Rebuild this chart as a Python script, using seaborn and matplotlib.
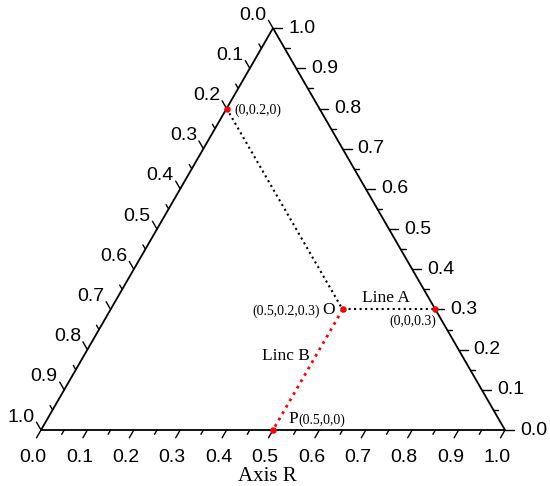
import matplotlib

matplotlib.use("Agg")
import matplotlib.pyplot as plt
import numpy as np
import pandas as pd
import seaborn as sns

# ternary components (they add up to 1):
#   r     -> bottom axis "Axis R" (0 at bottom-left, 1 at bottom-right)
#   left  -> left axis (0 at apex, 1 at bottom-left)
#   right -> right axis (0 at bottom-right, 1 at apex)
point_names = ["Q", "O", "A", "P"]
r_vals = [0.0, 0.5, 0.7, 0.5]
left_vals = [0.2, 0.2, 0.0, 0.5]
right_vals = [0.8, 0.3, 0.3, 0.0]

major_ticks = [0.0, 0.1, 0.2, 0.3, 0.4, 0.5, 0.6, 0.7, 0.8, 0.9, 1.0]
minor_ticks = [0.05, 0.15, 0.25, 0.35, 0.45, 0.55, 0.65, 0.75, 0.85, 0.95]
tick_labels = ["0.0", "0.1", "0.2", "0.3", "0.4", "0.5", "0.6", "0.7", "0.8", "0.9", "1.0"]

H = np.sqrt(3) / 2
PX = 464.0  # pixels per unit triangle side


def to_xy(r, right):
    r = np.asarray(r, dtype=float)
    right = np.asarray(right, dtype=float)
    return r + 0.5 * right, right * H


sns.set_theme(style="white")
plt.rcParams["font.family"] = ["Liberation Sans", "DejaVu Sans"]
plt.rcParams["text.color"] = "black"
SERIF = ["Liberation Serif", "DejaVu Serif"]

fig = plt.figure(figsize=(5.5, 4.86), dpi=100)
ax = fig.add_axes([0, 0, 1, 1])
ax.set_xlim(-41 / PX, 509 / PX)
ax.set_ylim(-56 / PX, 430 / PX)
ax.axis("off")

# triangle frame
cx, cy = to_xy([0, 1, 0, 0], [0, 0, 1, 0])
ax.plot(cx, cy, color="black", lw=1.3, solid_joinstyle="miter", zorder=3)


def draw_ticks(values, base_fn, direction, length):
    for v in values:
        x0, y0 = base_fn(v)
        x1 = x0 + direction[0] * length / PX
        y1 = y0 + direction[1] * length / PX
        ax.plot([x0, x1], [y0, y1], color="black", lw=1.0, zorder=3)


bottom_fn = lambda v: to_xy(v, 0)
left_fn = lambda v: to_xy(0, 1 - v)
right_fn = lambda v: to_xy(1 - v, v)

axes_spec = [
    (bottom_fn, (-0.5, -H), (-8, -27), "center"),
    (left_fn, (-0.5, H), (-20, 13), "center"),
    (right_fn, (1.0, 0.0), (15, 0), "left"),
]
for fn, d, off, ha in axes_spec:
    draw_ticks(major_ticks, fn, d, 9)
    draw_ticks(minor_ticks, fn, d, 5)
    for v, lab in zip(major_ticks, tick_labels):
        ax.annotate(lab, xy=fn(v), xytext=off, textcoords="offset pixels",
                    ha=ha, va="center", fontsize=14, color="black")

ax.annotate("Axis R", xy=to_xy(0.5, 0), xytext=(-6, -46), textcoords="offset pixels",
            ha="center", va="center", fontsize=15, family=SERIF, color="black")

# guide lines
px, py = to_xy(r_vals, right_vals)
pts = pd.DataFrame({"name": point_names, "x": px, "y": py})
seg_black1 = pts.set_index("name").loc[["Q", "O"]]
seg_black2 = pts.set_index("name").loc[["O", "A"]]
seg_red = pts.set_index("name").loc[["O", "P"]]

for seg, col, lw in [(seg_black1, "black", 1.5), (seg_black2, "black", 1.5), (seg_red, "red", 2.0)]:
    sns.lineplot(data=seg, x="x", y="y", sort=False, estimator=None, color=col,
                 lw=lw, linestyle=":", ax=ax, zorder=4)

sns.scatterplot(data=pts, x="x", y="y", color="red", s=22, linewidth=0, ax=ax, zorder=5)

xy = dict(zip(point_names, zip(px, py)))


def note(text, name, off, size, ha="left"):
    ax.annotate(text, xy=xy[name], xytext=off, textcoords="offset pixels",
                ha=ha, va="center", fontsize=size, family=SERIF, color="black")


note("(0,0.2,0)", "Q", (8, -2), 10)
note("O", "O", (-8, -1), 12.5, ha="right")
note("(0.5,0.2,0.3)", "O", (-23, -2), 10, ha="right")
note("Line A", "O", (43, 11), 12.5, ha="center")
note("(0,0,0.3)", "A", (1, -12), 10, ha="right")
note("Linc B", "O", (-57, -47), 12.5, ha="center")
note("P", "P", (15, 11), 12.5)
note("(0.5,0,0)", "P", (25, 10), 10)

fig.savefig("out.png", dpi=100)
